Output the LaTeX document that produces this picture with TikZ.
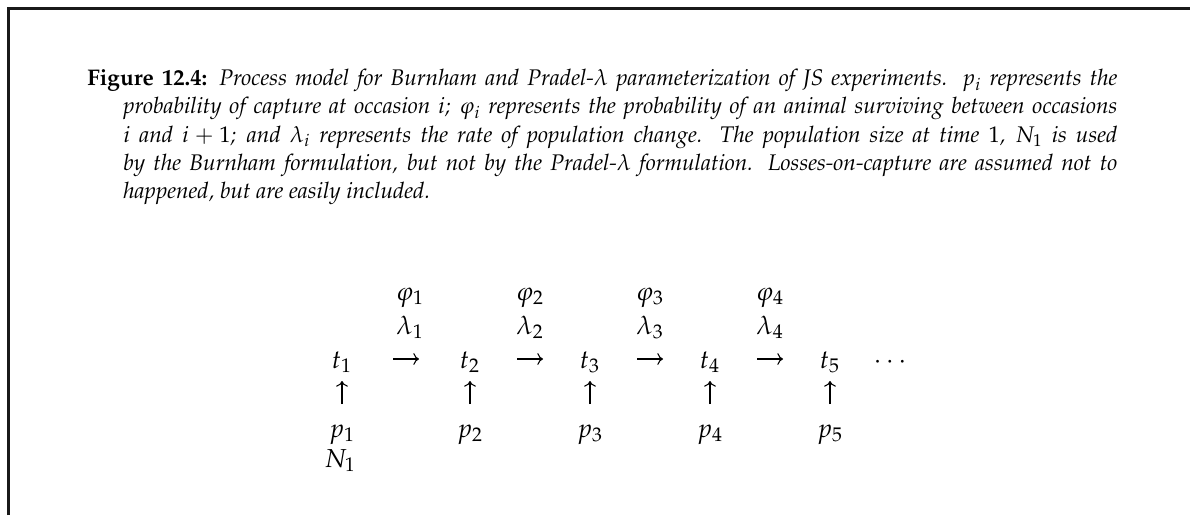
\documentclass[tikz,border=0pt]{standalone}
\usepackage[T1]{fontenc}
\usepackage{mathpazo}
\usetikzlibrary{arrows.meta}
\tikzset{
  frameline/.style = {line width=1.5pt, black!90},
  caption/.style   = {anchor=base west, inner sep=0pt,
                      font=\fontsize{11.3}{14.1}\selectfont},
  cell/.style      = {anchor=base, inner sep=0pt, text height=9pt, text depth=0pt,
                      font=\fontsize{13}{15}\selectfont},
  stepto/.style    = {-{Computer Modern Rightarrow}, line width=0.55pt},
}

\begin{document}
\begin{tikzpicture}[x=0.5pt,y=-0.5pt]
  \useasboundingbox (0,0) rectangle (1190,515);
  \draw[frameline] (8,515) -- (8,8) -- (1190,8);
  \node[caption] (cap) at (87,85.7) {\parbox[t]{515pt}{\hangindent=18pt\hangafter=1
    \hyphenpenalty=10000
    \textbf{Figure 12.4:} \textit{Process model for Burnham and Pradel-$\lambda$
    parameterization of JS experiments. $p_i$ represents the\linebreak probability
    of capture at occasion $i$; $\varphi_i$ represents the probability of an animal
    surviving between occasions\linebreak $i$ and $i+1$; and $\lambda_i$ represents
    the rate of population change. The population size at time $1$, $N_1$ is
    used\linebreak by the Burnham formulation, but not by the Pradel-$\lambda$
    formulation. Losses-on-capture are assumed not to\linebreak happened, but are
    easily included.}}};
  % occasions and capture probabilities
  \foreach \k/\x in {1/342,2/470,3/590,4/710,5/830} {
    \node[cell] (t\k) at (\x,368) {$t_\k$};
    \node[cell] (p\k) at (\x,437) {$p_\k$};
  }
  \node[cell] (N1) at (340,467) {$N_1$};
  \node[cell] (dots) at (890,368) {$\cdots$};
  % survival and growth between occasions
  \foreach \k/\x in {1/410,2/530,3/650,4/770} {
    \node[cell] (phi\k) at (\x,300) {$\varphi_\k$};
    \node[cell] (lam\k) at (\x,334) {$\lambda_\k$};
  }
  \foreach \a/\b/\s in {1/2/25.5pt,2/3/23.5pt,3/4/23.5pt,4/5/23.5pt}
    \draw[stepto, shorten <=\s, shorten >=\s] (t\a.center) -- (t\b.center);
  \foreach \k in {1,...,5}
    \draw[stepto, shorten <=12pt, shorten >=11pt] (p\k.center) -- (t\k.center);
\end{tikzpicture}
\end{document}
